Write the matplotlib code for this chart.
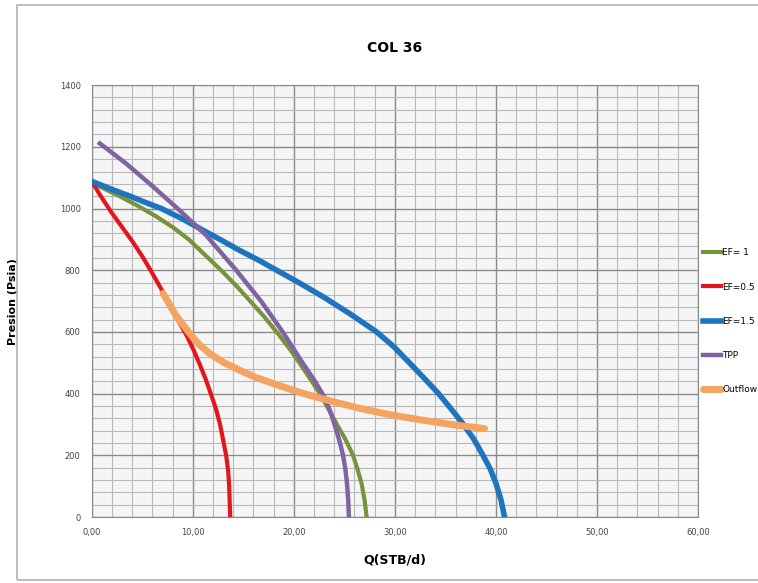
import matplotlib.pyplot as plt
from matplotlib.patches import Rectangle
from matplotlib.ticker import MultipleLocator

# datos (Q en STB/d, P en psia)
q_ef1 = [0.1, 1.5, 3.0, 4.6, 6.3, 8.0, 9.6, 11.2, 12.8, 14.3, 15.6, 17.0, 18.3, 19.5,
         20.6, 21.6, 22.55, 23.4, 24.2, 25.1, 25.85, 26.3, 26.7, 27.0, 27.2]
p_ef1 = [1083, 1060, 1036, 1008, 976, 940, 900, 850, 800, 750, 703, 652, 600, 549,
         498, 449, 401, 352, 304, 252, 201, 155, 109, 55, 0]

q_ef05 = [0.1, 0.9, 1.9, 3.0, 4.1, 5.1, 6.0, 6.9, 7.8, 8.6, 9.4, 10.1, 10.7, 11.3,
          11.8, 12.3, 12.7, 13.0, 13.3, 13.5, 13.6, 13.65, 13.7]
p_ef05 = [1083, 1040, 990, 940, 890, 840, 790, 738, 686, 635, 588, 540, 494, 445,
          398, 350, 300, 250, 200, 150, 100, 50, 0]

q_ef15 = [0.1, 2.0, 3.8, 5.3, 6.9, 9.0, 11.0, 12.8, 14.6, 16.5, 18.3, 20.6, 22.9, 25.5,
          28.2, 29.9, 31.5, 32.9, 34.3, 35.5, 36.7, 37.8, 38.7, 39.45, 40.0, 40.5, 40.85]
p_ef15 = [1087, 1062, 1040, 1020, 1000, 966, 930, 898, 865, 833, 800, 758, 714, 660,
          600, 552, 498, 450, 401, 353, 304, 253, 201, 155, 109, 55, 0]

q_tpp = [0.8, 3.4, 6.1, 8.5, 11.3, 14.3, 16.8, 18.9, 20.9, 22.1, 23.2, 23.75, 24.2,
         24.55, 24.86, 25.1, 25.26, 25.38, 25.45]
p_tpp = [1211, 1146, 1070, 1000, 914, 800, 698, 600, 498, 440, 379, 328, 282,
         243, 201, 155, 109, 55, 0]

q_out = [7.06, 8.3, 9.69, 10.6, 11.67, 13.0, 14.64, 16.2, 17.94, 19.5, 21.23, 23.21,
         26.18, 29.48, 32.77, 36.07, 38.87]
p_out = [725, 655, 595, 560, 530, 502, 476, 453, 433, 416, 398, 380,
         355, 332, 314, 298, 287]

fig = plt.figure(figsize=(7.58, 5.83), dpi=100)
fig.patches.append(Rectangle((0.022, 0.006), 1.2, 0.985, transform=fig.transFigure,
                             fill=False, edgecolor='#b0b0b0', lw=1.2))

ax = fig.add_axes([0.121, 0.113, 0.800, 0.741])
ax.set_facecolor('#f5f5f5')

ax.plot(q_ef1, p_ef1, color='#77933C', lw=3, label='EF= 1', zorder=3)
ax.plot(q_ef05, p_ef05, color='#E3161E', lw=3, label='EF=0.5', zorder=3)
ax.plot(q_ef15, p_ef15, color='#1F74C0', lw=4, label='EF=1.5', zorder=3)
ax.plot(q_tpp, p_tpp, color='#8064A2', lw=3.2, label='TPP', zorder=4)
ax.plot(q_out, p_out, color='#F4A460', lw=5, label='Outflow', zorder=5,
        solid_capstyle='round')

ax.set_xlim(0, 60)
ax.set_ylim(0, 1400)
ax.xaxis.set_major_locator(MultipleLocator(10))
ax.xaxis.set_minor_locator(MultipleLocator(2))
ax.yaxis.set_major_locator(MultipleLocator(200))
ax.yaxis.set_minor_locator(MultipleLocator(40))
ax.grid(which='major', color='#8a8a8a', lw=1.0)
ax.grid(which='minor', color='#b8b8b8', lw=0.8)
ax.set_axisbelow(True)
for s in ax.spines.values():
    s.set_color('#8a8a8a')

ax.set_xticklabels([f'{int(v)},00' for v in ax.get_xticks()])
ax.tick_params(which='both', length=0, labelsize=6, colors='#444444', pad=8)

ax.set_title('COL 36', fontsize=10, fontweight='bold', pad=24)
ax.set_xlabel('Q(STB/d)', fontsize=9, fontweight='bold', labelpad=12)
ax.set_ylabel('Presion (Psia)', fontsize=8, fontweight='bold', labelpad=30)

leg = ax.legend(loc='center left', bbox_to_anchor=(1.0, 0.453), frameon=False,
                handlelength=2, handletextpad=0.2, labelspacing=2.8,
                borderaxespad=0.1,
                prop={'family': ['Liberation Sans Narrow', 'DejaVu Sans'], 'size': 6.5})

fig.savefig('out.png', dpi=100)
